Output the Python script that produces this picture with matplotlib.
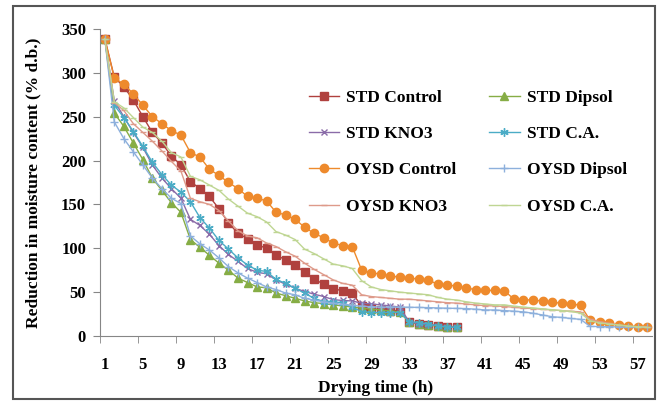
import matplotlib
matplotlib.use('Agg')
import matplotlib.pyplot as plt
from matplotlib.patches import Rectangle
from matplotlib.ticker import FixedLocator

plt.rcParams['font.family'] = ['Liberation Serif', 'DejaVu Serif']
plt.rcParams['font.weight'] = 'bold'

hours = list(range(1, 59))
x_labels = list(range(1, 58, 4))

std_control = [339, 295, 284, 269, 250, 232, 220, 205, 195, 176, 168, 159, 145, 129, 117, 111, 104, 100, 92, 87,
               81, 72.5, 65, 59, 54, 51.5, 49, 34, 31.7, 29.7, 29, 29, 15.6, 13.7, 13, 11.4, 10, 10]
std_dipsol = [339, 254, 239, 220, 201, 180, 166, 152, 141, 110, 101, 92, 83, 75, 66, 61, 56, 55, 49, 46,
              43, 40, 38, 37, 35.5, 34.3, 33, 31.7, 30.7, 29.7, 28.5, 27.5, 15.6, 13.7, 12.4, 11.4, 10, 10]
std_kno3 = [339, 268, 250, 232, 215, 195, 180, 168, 157, 133, 126, 116, 103, 93, 85, 77, 72.5, 71, 64, 59,
            54.5, 50.7, 47.7, 45, 41.5, 40.5, 40, 37.4, 36.6, 35.5, 34.3, 33, 16, 14, 13, 12, 10.5, 10]
std_ca = [339, 263, 249, 233, 216, 198, 184, 172, 164, 153, 135, 123, 109, 99, 89, 81, 75, 73.6, 64.5, 60,
          54.5, 48.8, 43, 39.3, 39, 38, 33, 27.8, 26.7, 26.7, 26.7, 26.7, 16.4, 15.3, 13.7, 11.4, 10, 10]
oysd_control = [339, 294, 287, 276, 263, 250, 242, 234, 229, 209, 204, 190, 183, 175, 168, 159, 157, 154, 141, 138,
                133, 124, 117, 112, 106, 103, 102, 75, 72, 70.6, 68.6, 67, 66, 65, 63.7, 59, 58, 57, 54.5, 53,
                52, 52, 51.5, 42, 41.5, 40.8, 40, 38.5, 37.4, 36.6, 35, 18, 15.6, 14.5, 12.2, 11.4, 10.6, 10]
oysd_dipsol = [339, 244, 225, 210, 195, 180, 168, 157, 151, 114, 105, 98, 89, 79, 72, 66, 61, 56, 53, 49,
               47, 43, 41, 39, 37.5, 36, 35, 34, 33.5, 33, 33, 33, 32.8, 32.6, 32.4, 32, 31.7, 31.5, 31.3, 30.5,
               29.7, 29.7, 29, 28.3, 27.5, 26, 24, 22, 21.2, 20, 19, 11, 10.8, 10.6, 10.4, 10.2, 10, 10]
oysd_kno3 = [339, 266, 257, 242, 232, 222, 211, 199, 188, 157, 153, 150, 143, 131, 120, 114, 112, 106, 102, 96,
             91, 83, 76, 70, 64, 60, 58, 47, 45, 44, 43, 42, 42, 41, 40, 39, 38, 37.5, 36.5, 35.5,
             34.5, 34.3, 33.6, 32.8, 31.7, 31.3, 30.5, 29.7, 29, 28.2, 27.5, 19, 16.4, 14.5, 12.6, 11.4, 10.6, 10.6]
oysd_ca = [339, 267, 260, 249, 238, 232, 222, 209, 204, 182, 178, 172, 166, 156, 148, 140, 136, 130, 119, 115,
           110, 99, 94, 88, 82, 80, 77, 63, 56, 53, 51.5, 50, 49, 48, 47, 44, 42, 41, 39, 37.5,
           36.5, 35.5, 35.5, 34, 33, 32, 31, 30, 29, 28, 26, 17.5, 15, 13.7, 12.6, 11.4, 10.6, 10]

series = [
    ('STD Control', std_control, '#B0413E', 's', 6),
    ('STD Dipsol', std_dipsol, '#86AD45', '^', 5.5),
    ('STD KNO3', std_kno3, '#8A6BA8', 'x', 5),
    ('STD C.A.', std_ca, '#4BACC6', (6, 2, 0), 6),
    ('OYSD Control', oysd_control, '#EE8A2C', 'o', 6),
    ('OYSD Dipsol', oysd_dipsol, '#8DB0DC', '+', 6),
    ('OYSD KNO3', oysd_kno3, '#DE9A8A', '_', 4),
    ('OYSD C.A.', oysd_ca, '#BFD693', '_', 4),
]

fig = plt.figure(figsize=(6.61, 4.01), dpi=100)
ax = fig.add_axes([0.1513, 0.162, 0.835, 0.766])

lines = []
for name, vals, color, marker, ms in series:
    ln, = ax.plot(hours[:len(vals)], vals, color=color, lw=1, marker=marker, ms=ms,
                  mec=color, mfc=color, mew=1, label=name)
    lines.append(ln)

ax.set_xlim(0.5, 58.5)
ax.set_ylim(0, 350)
ax.set_yticks(range(0, 351, 50))
ax.set_xticks(x_labels)
ax.xaxis.set_minor_locator(FixedLocator([0.5 + 4 * i for i in range(15)]))
ax.tick_params(axis='x', which='major', length=0, pad=15, labelsize=12)
ax.tick_params(axis='x', which='minor', length=5, color='#868686', direction='out')
ax.tick_params(axis='y', length=5, color='#868686', pad=5, labelsize=12)

for side in ['top', 'right']:
    ax.spines[side].set_visible(False)
for side in ['left', 'bottom']:
    ax.spines[side].set_color('#868686')

ax.set_xlabel('Drying time (h)', fontsize=12.5, fontweight='bold', labelpad=5)
ax.set_ylabel('Reduction in moisture content (% d.b.)', fontsize=12.5, fontweight='bold', labelpad=14)

# row-wise legend order for 2 columns
order = [0, 2, 4, 6, 1, 3, 5, 7]
ax.legend([lines[i] for i in order], [series[i][0] for i in order],
          ncol=2, loc='upper left', bbox_to_anchor=(300 / 661, 1 - 81 / 401),
          bbox_transform=fig.transFigure, frameon=False, fontsize=12.5,
          handlelength=1.75, handletextpad=0.4, columnspacing=1.9, labelspacing=1.16, borderpad=0)

fig.patches.append(Rectangle((13 / 661, 2 / 401), 642 / 661, 393 / 401, transform=fig.transFigure,
                             fill=False, edgecolor='#555555', lw=1.5))

fig.savefig('out.png', dpi=100)
